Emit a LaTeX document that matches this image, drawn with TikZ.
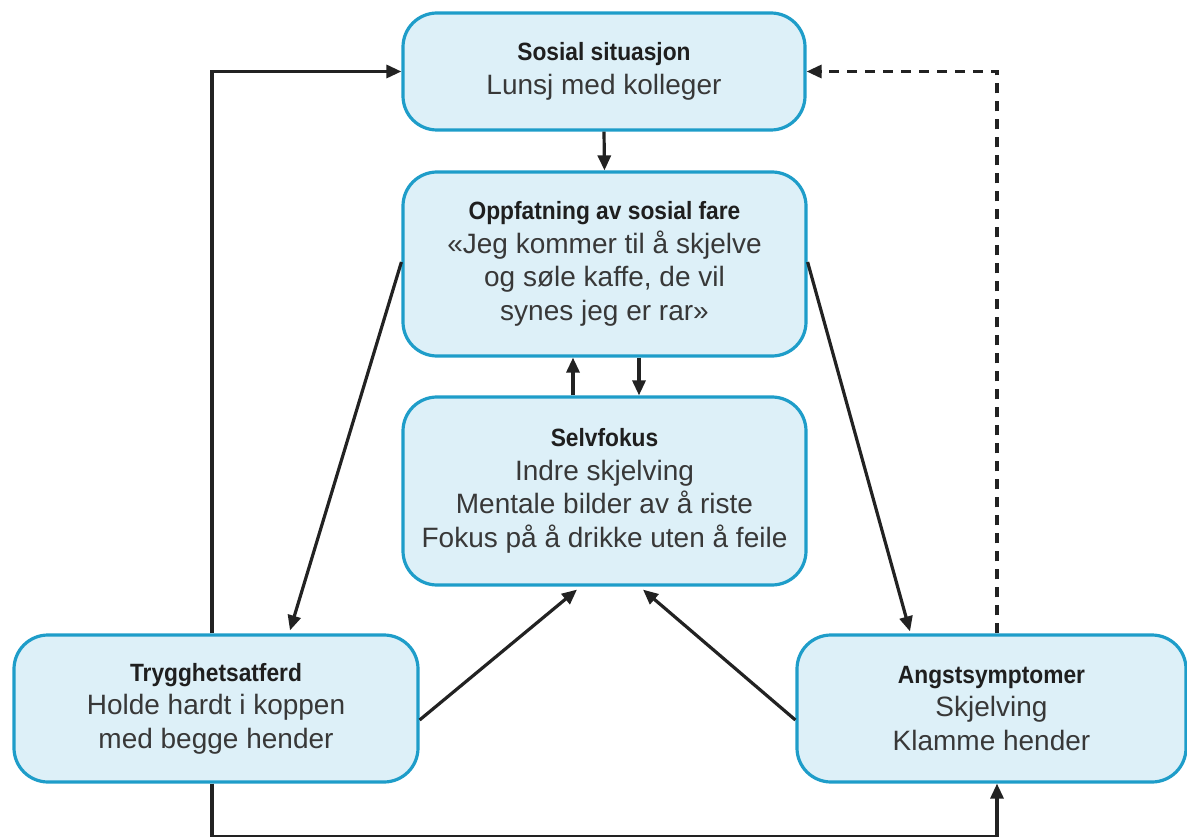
\documentclass[tikz,border=0pt]{standalone}
\usepackage{fontspec}
\setmainfont{Liberation Sans}
\newfontfamily\tfont[FakeStretch=0.91]{Liberation Sans}
\usetikzlibrary{arrows.meta}
\definecolor{boxfill}{HTML}{DDF0F8}
\definecolor{boxline}{HTML}{1E9DC9}
\definecolor{bodytxt}{HTML}{383838}
\definecolor{linecol}{HTML}{222222}
\newcommand{\ttl}[1]{{\tfont\bfseries\fontsize{25}{33}\selectfont\color{black!88}#1}}
\begin{document}
\begin{tikzpicture}[x=1pt,y=-1pt,
  box/.style={draw=boxline, line width=3.2pt, fill=boxfill, rounded corners=34pt,
    align=center, text=bodytxt, font=\fontsize{28}{33.5}\selectfont, inner sep=0pt},
  arr/.style={draw=linecol, line width=3.2pt, -{Triangle[length=15pt,width=13pt]}},
  dasharr/.style={arr, dash pattern=on 10pt off 8pt}]
\useasboundingbox (0,0) rectangle (1187,837);
\node[box, minimum width=402pt, minimum height=117pt] (sos) at (604,71.5)
  {\ttl{Sosial situasjon}\\Lunsj med kolleger};
\node[box, minimum width=403pt, minimum height=184pt] (opp) at (604.5,264)
  {\ttl{Oppfatning av sosial fare}\\«Jeg kommer til å skjelve\\og søle kaffe, de vil\\synes jeg er rar»};
\node[box, minimum width=403pt, minimum height=188pt] (selv) at (604.5,491)
  {\ttl{Selvfokus}\\Indre skjelving\\Mentale bilder av å riste\\Fokus på å drikke uten å feile};
\node[box, minimum width=404pt, minimum height=147pt] (tryg) at (216,708.5)
  {\ttl{Trygghetsatferd}\\Holde hardt i koppen\\med begge hender};
\node[box, minimum width=389pt, minimum height=147pt] (angst) at (991.5,708.5)
  {\ttl{Angstsymptomer}\\Skjelving\\Klamme hender};
% arrows
\draw[arr] (sos.south) -- (opp.north);
\draw[arr] ([xshift=-31.5pt]selv.north) -- ([xshift=-31.5pt]opp.south);
\draw[arr] ([xshift=34.5pt]opp.south) -- ([xshift=34.5pt]selv.north);
\draw[arr] ([yshift=2pt]opp.west) -- ([xshift=74pt,yshift=3pt]tryg.north);
\draw[arr] ([yshift=2pt]opp.east) -- ([xshift=-81.5pt,yshift=2pt]angst.north);
\draw[arr] ([yshift=-11.5pt]tryg.east) -- ([xshift=-27.5pt,yshift=-3pt]selv.south);
\draw[arr] ([yshift=-11.5pt]angst.west) -- ([xshift=38.5pt,yshift=-3pt]selv.south);
\draw[arr] ([xshift=-4pt]tryg.north) |- (sos.west);
\draw[dasharr] ([xshift=5.5pt]angst.north) |- (sos.east);
\draw[arr] ([xshift=-4pt]tryg.south) -- ++(0,53) -| ([xshift=5.5pt]angst.south);
\end{tikzpicture}
\end{document}
